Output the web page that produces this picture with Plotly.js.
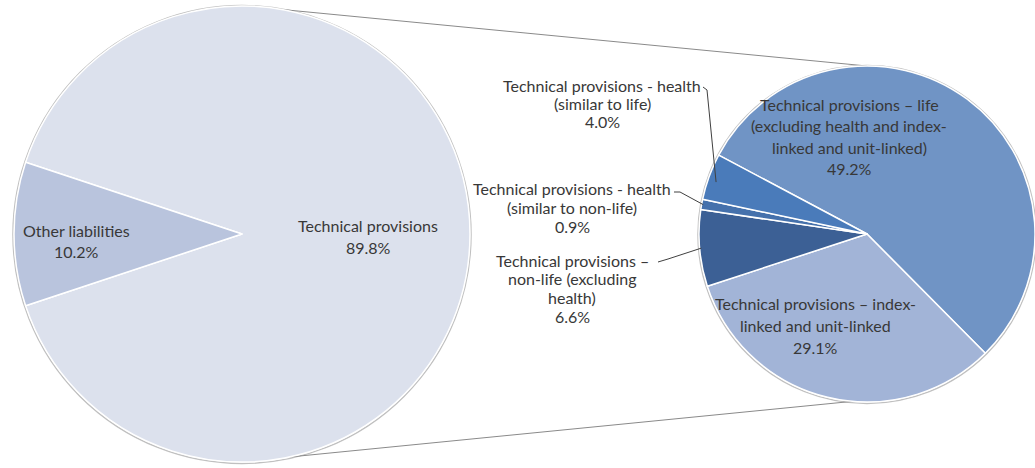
<!DOCTYPE html>
<html>
<head>
<meta charset="utf-8">
<script src="https://cdn.plot.ly/plotly-3.0.1.min.js"></script>
<style>html,body{margin:0;padding:0;background:#fff;}#chart{width:1035px;height:468px;}</style>
</head>
<body>
<div id="chart"></div>
<script>
// ---------------- data ----------------
const outerLabels = ['Technical provisions', 'Other liabilities'];
const outerValues = [89.8, 10.2];
const outerLines = [['Technical provisions'], ['Other liabilities']];

const innerLabels = [
  'Technical provisions – life (excluding health and index-linked and unit-linked)',
  'Technical provisions – index-linked and unit-linked',
  'Technical provisions – non-life (excluding health)',
  'Technical provisions - health (similar to non-life)',
  'Technical provisions - health (similar to life)'
];
const innerValues = [49.2, 29.1, 6.6, 0.9, 4.0];
const innerLines = [
  ['Technical provisions – life', '(excluding health and index-', 'linked and unit-linked)'],
  ['Technical provisions – index-', 'linked and unit-linked'],
  ['Technical provisions –', 'non-life (excluding', 'health)'],
  ['Technical provisions - health', '(similar to non-life)'],
  ['Technical provisions - health', '(similar to life)']
];

// ---------------- layout config ----------------
const W = 1035, H = 468;
const LP = {cx: 242, cy: 234, r: 228};
const RP = {cx: 867, cy: 234, r: 168};
const outerColors = ['#DCE1ED', '#B9C4DD'];
const innerColors = ['#7094C5', '#A2B4D7', '#3C6095', '#4571AC', '#4A7BBA'];
const FONT = 'Lato, "Open Sans", sans-serif';
const TXT = '#383838';
const FS = 16;

function dom(p) {
  return {
    x: [(p.cx - p.r) / W, Math.min(1, (p.cx + p.r) / W)],
    y: [1 - (p.cy + p.r) / H, 1 - (p.cy - p.r) / H]
  };
}
const px = x => x / W;
const py = y => 1 - y / H;
function onCircle(p, compassDeg, f) {
  const a = compassDeg * Math.PI / 180;
  const rr = p.r * (f || 1);
  return [p.cx + rr * Math.sin(a), p.cy - rr * Math.cos(a)];
}

const outerTotal = outerValues.reduce((a, b) => a + b, 0);
const innerTotal = innerValues.reduce((a, b) => a + b, 0);
// "Other liabilities" slice centred on 9 o'clock
const outerRotation = 270 + (outerValues[1] / outerTotal) * 180 - 360;
const innerRotation = -62;

// label placements: [centre x, first-line y, line spacing] in px
const outerPlace = [[368, 225, 22.5], [76, 230, 21.5]];
const innerPlace = [[849, 105, 21], [815, 303, 22], [572, 260, 18.7], [572, 188, 19], [602, 85, 18.5]];

const annotations = [];
function addBlock(lines, place) {
  lines.forEach((t, i) => {
    annotations.push({
      xref: 'paper', yref: 'paper', x: px(place[0]), y: py(place[1] + i * place[2]),
      xanchor: 'center', yanchor: 'middle', showarrow: false, text: t,
      font: {family: FONT, size: FS, color: TXT}
    });
  });
}
outerLines.forEach((ls, i) => addBlock(ls.concat([outerValues[i].toFixed(1) + '%']), outerPlace[i]));
innerLines.forEach((ls, i) => addBlock(ls.concat([innerValues[i].toFixed(1) + '%']), innerPlace[i]));

// slice mid-angles on the small pie (compass degrees)
const innerMid = [];
{
  let acc = innerRotation;
  innerValues.forEach(v => {
    const span = v / innerTotal * 360;
    innerMid.push(acc + span / 2);
    acc += span;
  });
}

const shapes = [];
// soft outlines round both pies
[LP, RP].forEach(p => {
  shapes.push({type: 'circle', xref: 'paper', yref: 'paper', layer: 'below',
    x0: px(p.cx - p.r - 1), x1: px(p.cx + p.r + 1), y0: py(p.cy + p.r + 1.5), y1: py(p.cy - p.r - 0.5),
    line: {color: 'rgba(140,140,140,0.55)', width: 1.5}, fillcolor: 'rgba(0,0,0,0)'});
});
// connector lines between the pies
function seg(a, b, color, w) {
  return {type: 'line', xref: 'paper', yref: 'paper', layer: 'below',
    x0: px(a[0]), y0: py(a[1]), x1: px(b[0]), y1: py(b[1]), line: {color: color, width: w}};
}
shapes.push(seg(onCircle(LP, 10), onCircle(RP, 0), '#8A8A8A', 1));
shapes.push(seg(onCircle(LP, 168), onCircle(RP, 185), '#8A8A8A', 1));
// leader lines for the small slices
function leader(pts) {
  return {type: 'path', xref: 'paper', yref: 'paper', layer: 'above',
    path: pts.map((p, i) => (i ? 'L' : 'M') + (p[0] / W) + ',' + (1 - p[1] / H)).join(' '),
    line: {color: '#404040', width: 1}};
}
shapes.push(leader([[703, 87], [707, 90], onCircle(RP, innerMid[4] - 1, 0.95)]));
shapes.push(leader([[674, 192], [680, 192], onCircle(RP, innerMid[3], 0.99)]));
shapes.push(leader([[658, 262], [668, 259], onCircle(RP, innerMid[2], 0.99)]));

const traces = [
  {
    type: 'pie', labels: outerLabels, values: outerValues, sort: false,
    direction: 'clockwise', rotation: outerRotation, domain: dom(LP),
    marker: {colors: outerColors, line: {color: '#FFFFFF', width: 1.5}},
    textinfo: 'none', hoverinfo: 'label+percent', showlegend: false
  },
  {
    type: 'pie', labels: innerLabels, values: innerValues, sort: false,
    direction: 'clockwise', rotation: innerRotation, domain: dom(RP),
    marker: {colors: innerColors, line: {color: '#FFFFFF', width: 1.5}},
    textinfo: 'none', hoverinfo: 'label+value', showlegend: false
  }
];

const layout = {
  width: W, height: H,
  margin: {l: 0, r: 0, t: 0, b: 0, pad: 0},
  paper_bgcolor: '#FFFFFF', plot_bgcolor: '#FFFFFF',
  showlegend: false,
  font: {family: FONT, color: TXT},
  annotations: annotations,
  shapes: shapes
};

Plotly.newPlot('chart', traces, layout, {displayModeBar: false, staticPlot: true});
</script>
</body>
</html>
